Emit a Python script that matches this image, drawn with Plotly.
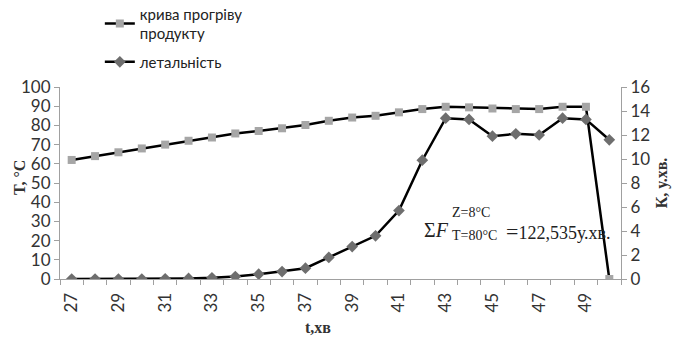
import plotly.graph_objects as go

minutes = list(range(27, 51))
temperature = [62, 64, 66, 68, 70, 72, 73.7, 75.8, 77.1, 78.5, 80.2, 82.4, 84.1, 85.0,
               86.8, 88.5, 89.7, 89.4, 88.8, 88.5, 88.5, 89.7, 89.7, 0]
lethality = [0.0, 0.0, 0.0, 0.0, 0.02, 0.05, 0.1, 0.2, 0.4, 0.62, 0.9, 1.8, 2.7, 3.6,
             5.7, 9.9, 13.4, 13.3, 11.9, 12.1, 12.0, 13.4, 13.3, 11.6]
x_ticks = list(range(27, 50, 2))
y_left_ticks = list(range(0, 101, 10))
y_right_ticks = list(range(0, 17, 2))

sans = "Lato"
serif = "Liberation Serif"

fig = go.Figure()
fig.add_trace(go.Scatter(
    x=minutes, y=temperature, name="крива прогріву<br>продукту", legendgroup="a",
    mode="lines+markers", line=dict(color="black", width=2.5),
    marker=dict(symbol="square", size=8, color="#a6a6a6"),
))
fig.add_trace(go.Scatter(
    x=minutes, y=lethality, name="летальність", yaxis="y2", legendgroup="b",
    mode="lines+markers", line=dict(color="black", width=2.5),
    marker=dict(symbol="diamond", size=9, color="#6e6e6e"),
))

axis_color = "#a0a0a0"
fig.update_layout(
    width=679, height=340,
    margin=dict(l=60, r=58, t=87, b=61, autoexpand=False),
    paper_bgcolor="white", plot_bgcolor="white",
    showlegend=True,
    legend=dict(x=0.071, y=1.466, xanchor="left", yanchor="top",
                font=dict(family=sans, size=15, color="#222"),
                bgcolor="rgba(0,0,0,0)", tracegroupgap=6),
    xaxis=dict(range=[26.5, 50.5], tickmode="array", tickvals=x_ticks,
               ticktext=[str(v) for v in x_ticks], tickangle=-90,
               ticks="", showgrid=False, zeroline=False, automargin=False,
               showline=True, linecolor=axis_color, linewidth=1,
               tickfont=dict(family=sans, size=17, color="#333"),
               ticklabelstandoff=6,
               minor=dict(tick0=26.5, dtick=1, ticks="outside", ticklen=5,
                          tickcolor=axis_color, showgrid=False)),
    yaxis=dict(range=[0, 100], tickmode="array", tickvals=y_left_ticks,
               ticks="outside", ticklen=5, tickcolor=axis_color,
               showgrid=False, zeroline=False, automargin=False,
               showline=True, linecolor=axis_color, linewidth=1,
               tickfont=dict(family=sans, size=17, color="#333")),
    yaxis2=dict(range=[0, 16], tickmode="array", tickvals=y_right_ticks,
                overlaying="y", side="right",
                ticks="outside", ticklen=5, tickcolor=axis_color,
                showgrid=False, zeroline=False, automargin=False,
                showline=True, linecolor=axis_color, linewidth=1,
                tickfont=dict(family=sans, size=17, color="#333"),
                title=dict(text="<b>К, у.хв.</b>", font=dict(family=serif, size=16, color="#333"),
                           standoff=6)),
)

fig.add_annotation(xref="paper", yref="paper", x=0.46, y=-0.255, xanchor="center", yanchor="middle",
                   text="<b>t,хв</b>", showarrow=False,
                   font=dict(family=serif, size=16, color="#333"))
fig.add_annotation(xref="paper", yref="paper", x=-0.073, y=0.526, xanchor="center", yanchor="middle",
                   text="<b>T, °C</b>", showarrow=False, textangle=-90,
                   font=dict(family=serif, size=16, color="#333"))

ann_font = dict(family=serif, color="#222")
fig.add_annotation(xref="paper", yref="paper", x=0.645, y=0.255, xanchor="left", yanchor="middle",
                   text="Σ<i>F</i>", showarrow=False, font=dict(size=20, **ann_font))
fig.add_annotation(xref="paper", yref="paper", x=0.695, y=0.344, xanchor="left", yanchor="middle",
                   text="Z=8°C", showarrow=False, font=dict(size=14, **ann_font))
fig.add_annotation(xref="paper", yref="paper", x=0.695, y=0.229, xanchor="left", yanchor="middle",
                   text="T=80°C", showarrow=False, font=dict(size=14, **ann_font))
fig.add_annotation(xref="paper", yref="paper", x=0.792, y=0.25, xanchor="left", yanchor="middle",
                   text="<span style='font-size:22px'>=</span>122,535у.хв.", showarrow=False,
                   font=dict(size=18, **ann_font))

fig.write_html("out.html", config={"displayModeBar": False},
               post_script="document.body.style.margin='0';")
